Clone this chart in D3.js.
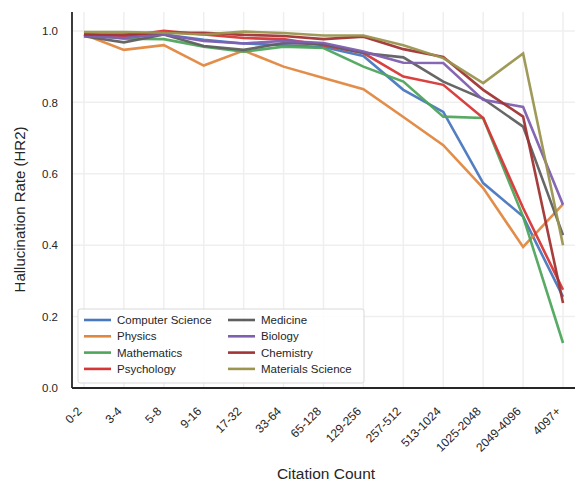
<!DOCTYPE html>
<html>
<head>
<meta charset="utf-8">
<script src="https://cdn.jsdelivr.net/npm/d3@7"></script>
<style>
  body { margin: 0; background: #fff; }
  text { font-family: "Liberation Sans", Arial, sans-serif; }
</style>
</head>
<body>
<div id="chart"></div>
<script>
var categories = ["0-2", "3-4", "5-8", "9-16", "17-32", "33-64", "65-128", "129-256",
                  "257-512", "513-1024", "1025-2048", "2049-4096", "4097+"];

var fields = ["Computer Science", "Physics", "Mathematics", "Psychology",
              "Medicine", "Biology", "Chemistry", "Materials Science"];

var colors = ["#4a78bf", "#e0873f", "#4fa55c", "#d73636",
              "#5f5f5f", "#7e5fb0", "#a13434", "#9b9550"];

var csValues    = [0.99, 0.985, 0.99, 0.975, 0.965, 0.96, 0.955, 0.93, 0.835, 0.773, 0.574, 0.48, 0.255];
var physValues  = [0.99, 0.947, 0.96, 0.903, 0.945, 0.90, 0.868, 0.837, 0.759, 0.68, 0.56, 0.395, 0.515];
var mathValues  = [0.99, 0.978, 0.977, 0.956, 0.942, 0.956, 0.952, 0.90, 0.858, 0.76, 0.756, 0.48, 0.126];
var psychValues = [0.99, 0.985, 1.0, 0.99, 0.98, 0.977, 0.96, 0.938, 0.872, 0.849, 0.756, 0.504, 0.275];
var medValues   = [0.985, 0.968, 0.99, 0.958, 0.947, 0.966, 0.963, 0.938, 0.926, 0.858, 0.81, 0.732, 0.428];
var bioValues   = [0.985, 0.98, 0.99, 0.972, 0.965, 0.972, 0.966, 0.942, 0.911, 0.91, 0.807, 0.787, 0.513];
var chemValues  = [0.99, 0.99, 0.995, 0.995, 0.989, 0.986, 0.977, 0.984, 0.949, 0.927, 0.835, 0.76, 0.238];
var matValues   = [0.997, 0.997, 0.995, 0.99, 0.998, 0.994, 0.987, 0.987, 0.96, 0.924, 0.854, 0.937, 0.40];

var series = [csValues, physValues, mathValues, psychValues, medValues, bioValues, chemValues, matValues];

var yTicks = [0.0, 0.2, 0.4, 0.6, 0.8, 1.0];

var margin = { top: 12, right: 0, bottom: 93, left: 72 },
    width = 575 - margin.left - margin.right,
    height = 481 - margin.top - margin.bottom;

var svg = d3.select("#chart").append("svg")
    .attr("width", 575)
    .attr("height", 481);

var g = svg.append("g")
    .attr("transform", "translate(" + margin.left + "," + margin.top + ")");

var x = d3.scalePoint()
    .domain(categories)
    .range([0, width])
    .padding(0.3);

var y = d3.scaleLinear()
    .domain([0, 1.053])
    .range([height, 0]);

// grid
g.append("g").selectAll("line")
    .data(categories).enter().append("line")
    .attr("x1", function (d) { return x(d); })
    .attr("x2", function (d) { return x(d); })
    .attr("y1", 0)
    .attr("y2", height)
    .attr("stroke", "#efefef")
    .attr("stroke-width", 1.5);

g.append("g").selectAll("line")
    .data(yTicks).enter().append("line")
    .attr("x1", 0)
    .attr("x2", width)
    .attr("y1", function (d) { return y(d); })
    .attr("y2", function (d) { return y(d); })
    .attr("stroke", "#efefef")
    .attr("stroke-width", 1.5);

// lines
var line = d3.line()
    .x(function (d, i) { return x(categories[i]); })
    .y(function (d) { return y(d); });

series.forEach(function (vals, k) {
  g.append("path")
    .datum(vals)
    .attr("d", line)
    .attr("fill", "none")
    .attr("stroke", colors[k])
    .attr("stroke-width", 2.6)
    .attr("stroke-linejoin", "miter")
    .attr("opacity", 0.95);
});

// axes
var yAxis = g.append("g")
    .call(d3.axisLeft(y).tickValues(yTicks).tickFormat(d3.format(".1f")).tickSize(0).tickPadding(14));
yAxis.select(".domain").remove();
yAxis.selectAll("text").attr("font-size", 11.5).attr("fill", "#262626");

var xAxis = g.append("g")
    .attr("transform", "translate(0," + height + ")")
    .call(d3.axisBottom(x).tickSize(0));
xAxis.select(".domain").remove();
// labels end just left of the tick, rotated 45 degrees
xAxis.selectAll("text")
    .attr("font-size", 12)
    .attr("fill", "#262626")
    .attr("text-anchor", "end")
    .attr("x", 0)
    .attr("y", 0)
    .attr("dy", 0)
    .attr("transform", "translate(-2,24) rotate(-45)");

// spines
g.append("line")
    .attr("x1", 0).attr("x2", 0)
    .attr("y1", 0).attr("y2", height)
    .attr("stroke", "#262626").attr("stroke-width", 1.8);
g.append("line")
    .attr("x1", 0).attr("x2", width)
    .attr("y1", height).attr("y2", height)
    .attr("stroke", "#262626").attr("stroke-width", 1.8);

// axis titles
svg.append("text")
    .attr("x", 326)
    .attr("y", 479)
    .attr("text-anchor", "middle")
    .attr("font-size", 15.5)
    .attr("fill", "#262626")
    .text("Citation Count");

svg.append("text")
    .attr("transform", "translate(25," + (margin.top + y(0.5)) + ") rotate(-90)")
    .attr("text-anchor", "middle")
    .attr("font-size", 15)
    .attr("fill", "#262626")
    .text("Hallucination Rate (HR2)");

// legend
var legend = svg.append("g").attr("transform", "translate(78,309)");
legend.append("rect")
    .attr("width", 286)
    .attr("height", 74)
    .attr("fill", "#fff")
    .attr("fill-opacity", 0.85)
    .attr("stroke", "#d9d9d9")
    .attr("stroke-width", 1)
    .attr("rx", 2);

fields.forEach(function (name, k) {
  var col = Math.floor(k / 4), row = k % 4;
  var item = legend.append("g")
      .attr("transform", "translate(" + (6 + col * 144) + "," + (11 + row * 16.3) + ")");
  item.append("line")
      .attr("x1", 0).attr("x2", 27)
      .attr("stroke", colors[k])
      .attr("stroke-width", 2.6);
  item.append("text")
      .attr("x", 33)
      .attr("y", 4)
      .attr("font-size", 11.5)
      .attr("fill", "#262626")
      .text(name);
});
</script>
</body>
</html>
